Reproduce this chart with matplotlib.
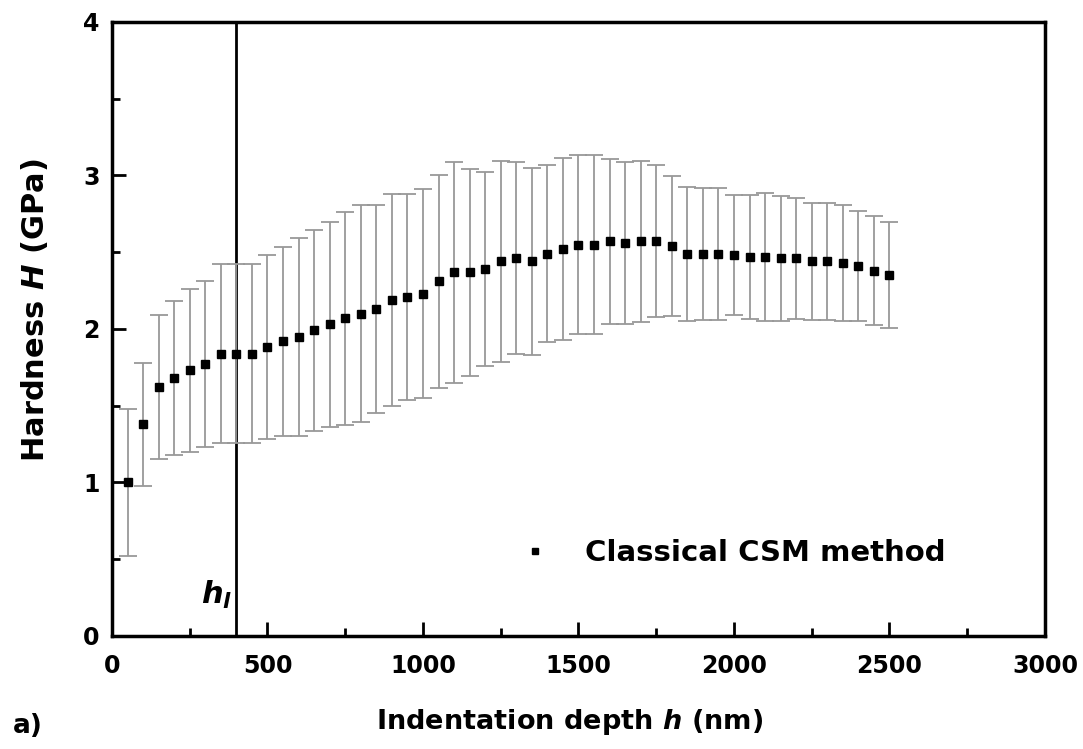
import matplotlib
matplotlib.use("Agg")
import matplotlib.pyplot as plt
from matplotlib.ticker import MultipleLocator

plt.rcParams['font.family'] = ['DejaVu Sans']
plt.rcParams['mathtext.fontset'] = 'custom'
plt.rcParams['mathtext.it'] = 'DejaVu Sans:italic:bold'
plt.rcParams['mathtext.rm'] = 'DejaVu Sans:bold'
plt.rcParams['mathtext.bf'] = 'DejaVu Sans:bold'

depth_nm = [50, 100, 150, 200, 250, 300, 350, 400, 450, 500,
            550, 600, 650, 700, 750, 800, 850, 900, 950, 1000,
            1050, 1100, 1150, 1200, 1250, 1300, 1350, 1400, 1450, 1500,
            1550, 1600, 1650, 1700, 1750, 1800, 1850, 1900, 1950, 2000,
            2050, 2100, 2150, 2200, 2250, 2300, 2350, 2400, 2450, 2500]
hardness = [1.00, 1.38, 1.62, 1.68, 1.73, 1.77, 1.84, 1.84, 1.84, 1.88,
            1.92, 1.95, 1.99, 2.03, 2.07, 2.10, 2.13, 2.19, 2.21, 2.23,
            2.31, 2.37, 2.37, 2.39, 2.44, 2.46, 2.44, 2.49, 2.52, 2.55,
            2.55, 2.57, 2.56, 2.57, 2.57, 2.54, 2.49, 2.49, 2.49, 2.48,
            2.47, 2.47, 2.46, 2.46, 2.44, 2.44, 2.43, 2.41, 2.38, 2.35]
hardness_err = [0.48, 0.40, 0.47, 0.50, 0.53, 0.54, 0.58, 0.58, 0.585, 0.60,
                0.615, 0.645, 0.655, 0.67, 0.695, 0.705, 0.68, 0.69, 0.67, 0.68,
                0.695, 0.72, 0.675, 0.63, 0.655, 0.625, 0.61, 0.575, 0.595, 0.585,
                0.585, 0.535, 0.525, 0.525, 0.495, 0.455, 0.435, 0.43, 0.43, 0.39,
                0.405, 0.415, 0.405, 0.395, 0.38, 0.38, 0.38, 0.36, 0.355, 0.345]
h_limit = 400
series_label = "Classical CSM method"

fig = plt.figure(figsize=(10.83, 7.49), dpi=100)
ax = fig.add_axes([0.1034, 0.1509, 0.8615, 0.8198])

ax.errorbar(depth_nm, hardness, yerr=hardness_err, fmt='none',
            ecolor='#999999', elinewidth=1.3, capsize=6.5, capthick=1.3, zorder=2)
ax.plot(depth_nm, hardness, linestyle='none', marker='s', markersize=6.2,
        color='black', label=series_label, zorder=3)
ax.axvline(h_limit, color='black', linewidth=2, zorder=1)
ax.text(h_limit - 12, 0.16, r'$h_l$', fontsize=22, ha='right', va='bottom')

ax.set_xlim(0, 3000)
ax.set_ylim(0, 4)
ax.xaxis.set_major_locator(MultipleLocator(500))
ax.xaxis.set_minor_locator(MultipleLocator(250))
ax.yaxis.set_major_locator(MultipleLocator(1))
ax.yaxis.set_minor_locator(MultipleLocator(0.5))
ax.tick_params(which='both', direction='in', top=False, right=False, width=2)
ax.tick_params(which='major', length=10, labelsize=17)
ax.tick_params(axis='x', which='major', pad=13)
ax.tick_params(axis='y', which='major', pad=9)
ax.tick_params(which='minor', length=6)
for lab in ax.get_xticklabels() + ax.get_yticklabels():
    lab.set_fontweight('bold')
for s in ax.spines.values():
    s.set_linewidth(2.5)

ax.set_xlabel(r'Indentation depth $h$ (nm)', fontsize=19.5, fontweight='bold')
ax.set_ylabel(r'Hardness $H$ (GPa)', fontsize=22, fontweight='bold')
ax.xaxis.set_label_coords(0.49, -0.115)
ax.yaxis.set_label_coords(-0.066, 0.531)
fig.text(0.012, 0.022, 'a)', fontsize=19, fontweight='bold')

leg = ax.legend(loc='center left', bbox_to_anchor=(0.438, 0.135), frameon=False,
                fontsize=21, handlelength=1.0, handletextpad=1.2, markerscale=0.8,
                borderpad=0, borderaxespad=0)
for t in leg.get_texts():
    t.set_fontweight('bold')

fig.savefig('out.png', dpi=100)
